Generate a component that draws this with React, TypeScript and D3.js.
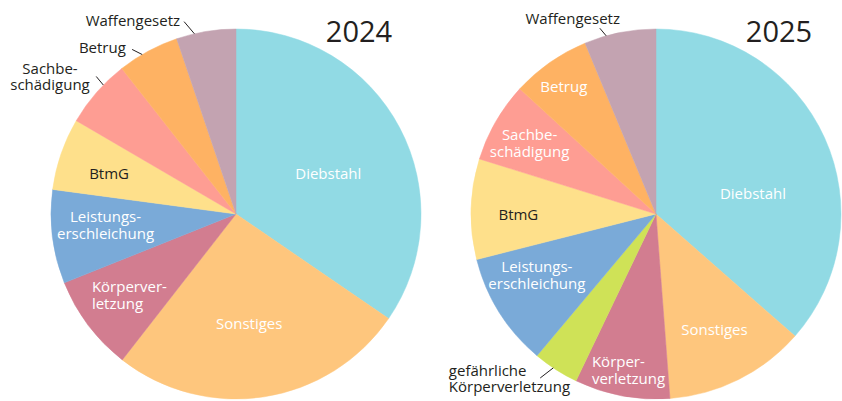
import React from "react";
import * as d3 from "d3";

// ---- data ----
const categories2024 = ["Diebstahl", "Sonstiges", "Körperverletzung", "Leistungserschleichung", "BtmG", "Sachbeschädigung", "Betrug", "Waffengesetz"];
const values2024 = [34.6, 26.0, 8.4, 8.2, 6.3, 6.0, 5.4, 5.2];

const categories2025 = ["Diebstahl", "Sonstiges", "Körperverletzung", "gefährliche Körperverletzung", "Leistungserschleichung", "BtmG", "Sachbeschädigung", "Betrug", "Waffengesetz"];
const values2025 = [36.4, 12.3, 8.3, 4.0, 9.9, 8.75, 7.0, 6.9, 6.25];

const years = ["2024", "2025"];

// ---- styles ----
const colors: Record<string, string> = {
  "Diebstahl": "#91dae4",
  "Sonstiges": "#fec67d",
  "Körperverletzung": "#d27d90",
  "gefährliche Körperverletzung": "#cfe257",
  "Leistungserschleichung": "#7aaad8",
  "BtmG": "#fee08b",
  "Sachbeschädigung": "#fe9d93",
  "Betrug": "#feb263",
  "Waffengesetz": "#c3a3b1",
};

type Lab = {
  lines: string[];
  kind: "in" | "out";
  da: number; rf: number; anchor: "start" | "middle" | "end"; dark?: boolean;
  da1?: number; da2?: number; rf2?: number; tx?: number; ty?: number;
};

const layout2024: Record<string, Lab> = {
  "Diebstahl": { lines: ["Diebstahl"], kind: "in", da: 4.3, rf: 0.544, anchor: "middle" },
  "Sonstiges": { lines: ["Sonstiges"], kind: "in", da: 2, rf: 0.6, anchor: "middle" },
  "Körperverletzung": { lines: ["Körperver-", "letzung"], kind: "in", da: 7.55, rf: 0.894, anchor: "start" },
  "Leistungserschleichung": { lines: ["Leistungs-", "erschleichung"], kind: "in", da: 2, rf: 0.708, anchor: "middle" },
  "BtmG": { lines: ["BtmG"], kind: "in", da: -1.6, rf: 0.719, anchor: "middle", dark: true },
  "Sachbeschädigung": { lines: ["Sachbe-", "schädigung"], kind: "out", da: 0, rf: 0, da1: 3.1, da2: 3.45, rf2: 1.06, tx: -46.2, ty: -2, anchor: "middle", dark: true },
  "Betrug": { lines: ["Betrug"], kind: "out", da: 0, rf: 0, da1: -2.05, da2: -3.85, rf2: 1.052, tx: -6.3, ty: 3.4, anchor: "end", dark: true },
  "Waffengesetz": { lines: ["Waffengesetz"], kind: "out", da: 0, rf: 0, da1: -3.65, da2: -5.75, rf2: 1.077, tx: -4, ty: 4.3, anchor: "end", dark: true },
};

const layout2025: Record<string, Lab> = {
  "Diebstahl": { lines: ["Diebstahl"], kind: "in", da: 12.8, rf: 0.535, anchor: "middle" },
  "Sonstiges": { lines: ["Sonstiges"], kind: "in", da: -0.3, rf: 0.7, anchor: "middle" },
  "Körperverletzung": { lines: ["Körper-", "verletzung"], kind: "in", da: 11.6, rf: 0.915, anchor: "start" },
  "gefährliche Körperverletzung": { lines: ["gefährliche", "Körperverletzung"], kind: "out", da: 0, rf: 0, da1: 0.9, da2: 2.4, rf2: 1.085, tx: -91.4, ty: -1.6, anchor: "start", dark: true },
  "Leistungserschleichung": { lines: ["Leistungs-", "erschleichung"], kind: "in", da: 4.9, rf: 0.724, anchor: "middle" },
  "BtmG": { lines: ["BtmG"], kind: "in", da: -2.15, rf: 0.744, anchor: "middle", dark: true },
  "Sachbeschädigung": { lines: ["Sachbe-", "schädigung"], kind: "in", da: -0.85, rf: 0.782, anchor: "middle" },
  "Betrug": { lines: ["Betrug"], kind: "in", da: -0.9, rf: 0.85, anchor: "middle" },
  "Waffengesetz": { lines: ["Waffengesetz"], kind: "out", da: 0, rf: 0, da1: -4.35, da2: -5.55, rf2: 1.049, tx: -27.1, ty: -4.3, anchor: "middle", dark: true },
};

const W = 842, H = 401;
const R = 185;
const FONT = "'Open Sans', sans-serif";
const DARK = "#231f20";
const LH = 17;

function polar(cx: number, cy: number, a: number, r: number): [number, number] {
  return [cx + r * Math.sin(a), cy - r * Math.cos(a)];
}

function Pie({ cx, cy, cats, vals, layout, year }: { cx: number; cy: number; cats: string[]; vals: number[]; layout: Record<string, Lab>; year: string }) {
  const data = cats.map((c, i) => ({ c, v: vals[i] }));
  const arcs = d3.pie<{ c: string; v: number }>().sort(null).value((d) => d.v)(data);
  const arcGen = d3.arc<d3.PieArcDatum<{ c: string; v: number }>>().innerRadius(0).outerRadius(R);
  const rad = Math.PI / 180;
  return (
    <g>
      <g transform={`translate(${cx},${cy})`}>
        {arcs.map((a) => (
          <path key={a.data.c} d={arcGen(a) || ""} fill={colors[a.data.c]} stroke={colors[a.data.c]} strokeWidth={0.5} />
        ))}
      </g>
      {arcs.map((a) => {
        const L = layout[a.data.c];
        const mid = (a.startAngle + a.endAngle) / 2;
        const fill = L.dark ? DARK : "#ffffff";
        if (L.kind === "in") {
          const [x, y] = polar(cx, cy, mid + L.da * rad, L.rf * R);
          const y0 = y - ((L.lines.length - 1) * LH) / 2 + 5;
          return (
            <text key={a.data.c} x={x} y={y0} textAnchor={L.anchor} fill={fill} fontFamily={FONT} fontSize={15}>
              {L.lines.map((t, i) => (
                <tspan key={i} x={x} y={y0 + i * LH}>{t}</tspan>
              ))}
            </text>
          );
        }
        const [x1, y1] = polar(cx, cy, mid + (L.da1 || 0) * rad, R);
        const [x2, y2] = polar(cx, cy, mid + (L.da2 || 0) * rad, (L.rf2 || 1) * R);
        const tx = x2 + (L.tx || 0);
        const ty = y2 + (L.ty || 0);
        return (
          <g key={a.data.c}>
            <line x1={x1} y1={y1} x2={x2} y2={y2} stroke={DARK} strokeWidth={1} />
            <text x={tx} y={ty} textAnchor={L.anchor} fill={fill} fontFamily={FONT} fontSize={15}>
              {L.lines.map((t, i) => (
                <tspan key={i} x={tx} y={ty + i * 16}>{t}</tspan>
              ))}
            </text>
          </g>
        );
      })}
      <text x={cx + 123} y={42} textAnchor="middle" fill={DARK} fontFamily={FONT} fontSize={29}>{year}</text>
    </g>
  );
}

export default function App() {
  return (
    <svg width={W} height={H} style={{ position: "absolute", left: 0, top: 0, background: "#fff" }}>
      <rect width={W} height={H} fill="#fff" />
      <Pie cx={236} cy={214} cats={categories2024} vals={values2024} layout={layout2024} year={years[0]} />
      <Pie cx={656} cy={214} cats={categories2025} vals={values2025} layout={layout2025} year={years[1]} />
    </svg>
  );
}
